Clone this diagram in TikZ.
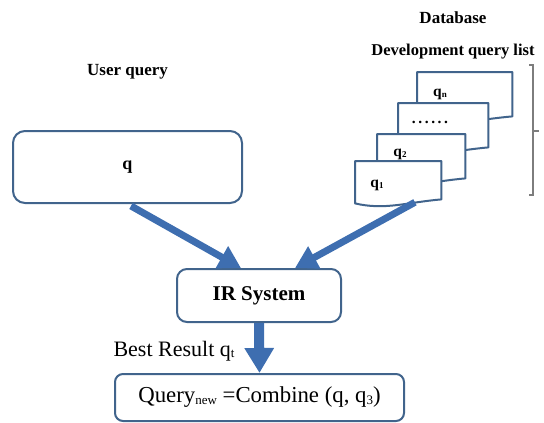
\documentclass[tikz,border=0pt]{standalone}
\usepackage{fontspec}
\setmainfont{Liberation Serif}
\usetikzlibrary{positioning, arrows.meta, calc}

\definecolor{boxline}{RGB}{65,100,140}
\definecolor{arrowblue}{RGB}{62,110,176}
\definecolor{bracketgray}{RGB}{125,125,125}

% one sheet of the query list, wavy bottom edge
\newcommand{\querypage}[1]{%
  \draw[pageline] (#1.north west) -- (#1.north east) -- (#1.south east)
    .. controls +(-35,3) and +(30,7) .. ($(#1.south west)+(0,4)$) -- cycle;}
% small index set low, as in the figure
\newcommand{\lowidx}[2]{\raisebox{-1.5pt}{\fontsize{#2}{#2}\selectfont #1}}

\begin{document}
\begin{tikzpicture}[x=1pt, y=-1pt, node distance=20pt, on grid, >=Triangle,
    box/.style={draw=boxline, line width=2pt, rounded corners=12pt, fill=white},
    page/.style={rectangle, inner sep=0pt, anchor=north west, minimum width=88pt, minimum height=44pt},
    pageline/.style={draw=boxline, line width=2pt, fill=white, line join=round},
    pagelbl/.style={font=\bfseries\fontsize{15.5}{17}\selectfont, inner sep=0pt},
    heading/.style={font=\bfseries\fontsize{17}{20}\selectfont},
    bigarrow/.style={draw=arrowblue, line width=7pt, -{Triangle[length=22pt, width=24pt]}},
    downarrow/.style={draw=arrowblue, line width=10pt, -{Triangle[length=25pt, width=28pt]}}]
    \useasboundingbox (0,0) rectangle (544,423);

    % Boxes
    \node[box, minimum width=229pt, minimum height=72pt,
          font=\bfseries\fontsize{18}{20}\selectfont]            (user)  at (127.5,167) {q};
    \node[heading, above=95pt of user]                            (userlbl) {User query};
    \node[box, rounded corners=10pt, minimum width=164pt, minimum height=53pt,
          font=\bfseries\fontsize{21}{24}\selectfont]            (ir)    at (259,295.5) {IR System};
    \node[box, rounded corners=8pt, minimum width=289pt, minimum height=47pt,
          font=\fontsize{22.8}{24}\selectfont]                   (query) at (259.5,397.5)
          {Query\lowidx{new}{13} =Combine (q, q\lowidx{3}{13})};

    % Query list
    \node[heading, font=\bfseries\fontsize{16.5}{19}\selectfont] (devlist) at (453,52) {Development query list};
    \node[heading, above=34pt of devlist]                        (db) {Database};

    \node[page, minimum width=95pt]                     (qn)    at (417,72)  {};
    \node[page, minimum width=90pt]                     (qdots) at (398,103) {};
    \node[page]                                         (q2)    at (377,134) {};
    \node[page, minimum width=86pt, minimum height=38pt] (q1)   at (355,161) {};

    \querypage{qn}
    \node[pagelbl] (qnlbl)   at ($(qn.north west)+(23,22)$)    {q\lowidx{n}{9}};
    \querypage{qdots}
    \node[pagelbl] (dotslbl) at ($(qdots.north west)+(32,19)$) {.\,.\,.\,.\,.\,.};
    \querypage{q2}
    \node[pagelbl] (q2lbl)   at ($(q2.north west)+(23,20)$)    {q\lowidx{2}{9}};
    \querypage{q1}
    \node[pagelbl] (q1lbl)   at ($(q1.north west)+(22,24)$)    {q\lowidx{1}{9}};

    % bracket
    \draw[bracketgray, line width=1.5pt] (529,65) -- (533,65) -- (533,195) -- (529,195);
    \draw[bracketgray, line width=1.5pt] (533,131) -- (539,131);

    % Arrows
    \draw[bigarrow, shorten <=4pt] (user.south) -- ([xshift=-18pt]ir.north);
    \draw[bigarrow, shorten <=6pt] ([xshift=22pt]q1.south) -- ([xshift=36pt]ir.north);
    \draw[downarrow] (ir.south) -- (query.north);
    \node[font=\fontsize{22}{24}\selectfont] (best) at ($(ir.south)+(-85,28)$)
          {Best Result q\lowidx{t}{13}};
\end{tikzpicture}
\end{document}
